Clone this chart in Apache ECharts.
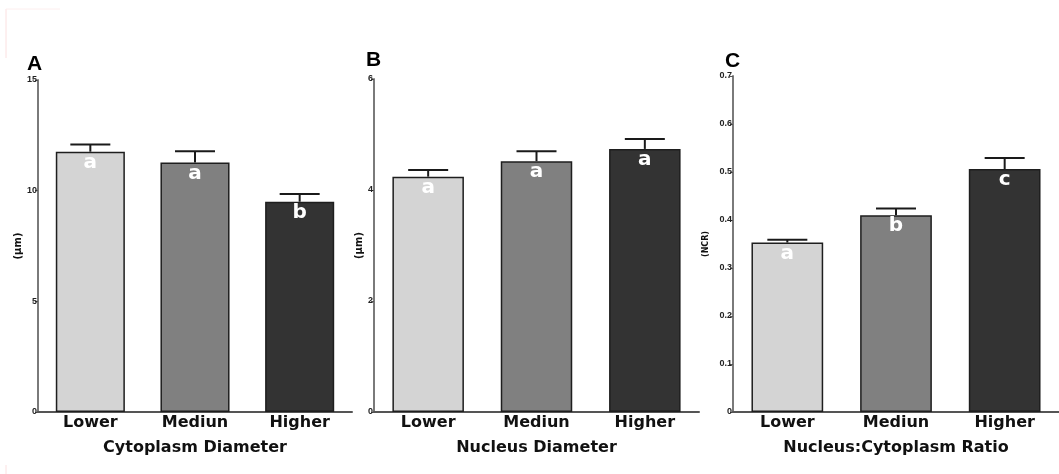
<!DOCTYPE html>
<html>
<head>
<meta charset="utf-8">
<script src="https://cdn.jsdelivr.net/npm/echarts@6/dist/echarts.min.js"></script>
<style>
html,body{margin:0;padding:0;background:#fff;}
#chart{width:1059px;height:474px;}
</style>
</head>
<body>
<div id="chart"></div>
<script>
// ---- data ----
const categories = ['Lower', 'Mediun', 'Higher'];

const cytoMean = [11.76, 11.27, 9.50];
const cytoErr = [0.33, 0.51, 0.35];
const cytoLetters = ['a', 'a', 'b'];

const nucMean = [4.24, 4.52, 4.74];
const nucErr = [0.12, 0.18, 0.18];
const nucLetters = ['a', 'a', 'a'];

const ncrMean = [0.353, 0.410, 0.506];
const ncrErr = [0.006, 0.014, 0.023];
const ncrLetters = ['a', 'b', 'c'];

const panelTitles = ['Cytoplasm Diameter', 'Nucleus Diameter', 'Nucleus:Cytoplasm Ratio'];
const yNames = ['(µm)', '(µm)', '(NCR)'];
const yMaxs = [15, 6, 0.7];
const yIntervals = [5, 2, 0.1];
const panelLetters = ['A', 'B', 'C'];

const barColors = ['#d4d4d4', '#808080', '#333333'];

const panels = [
  {mean: cytoMean, err: cytoErr, letters: cytoLetters},
  {mean: nucMean, err: nucErr, letters: nucLetters},
  {mean: ncrMean, err: ncrErr, letters: ncrLetters}
];

const grids = [
  {left: 38, right: 707, top: 80, bottom: 62},
  {left: 374, right: 360, top: 79, bottom: 62},
  {left: 733, right: 0, top: 76, bottom: 62}
];
const nameGaps = [8, 8, 23];
const yNameSizes = [10, 10, 8];

const chart = echarts.init(document.getElementById('chart'));

const xAxes = [], yAxes = [], series = [];
panels.forEach((p, i) => {
  xAxes.push({
    gridIndex: i,
    type: 'category',
    data: categories,
    axisLine: {lineStyle: {color: '#555', width: 2}},
    axisTick: {show: false},
    axisLabel: {
      margin: 3, color: '#111', fontSize: 16, fontWeight: 'bold',
      fontFamily: 'DejaVu Sans'
    },
    name: panelTitles[i],
    nameLocation: 'middle',
    nameGap: 28,
    nameTextStyle: {color: '#111', fontSize: 16, fontWeight: 'bold', fontFamily: 'DejaVu Sans'}
  });
  yAxes.push({
    gridIndex: i,
    type: 'value',
    min: 0,
    max: yMaxs[i],
    interval: yIntervals[i],
    splitLine: {show: false},
    axisLine: {show: true, lineStyle: {color: '#7a7a7a', width: 2}},
    axisTick: {show: true, length: 3, lineStyle: {color: '#555', width: 1}},
    axisLabel: {
      margin: 1, color: '#222', fontSize: 9, fontWeight: 'bold',
      fontFamily: 'Liberation Sans'
    },
    name: yNames[i],
    nameLocation: 'middle',
    nameRotate: 90,
    nameGap: nameGaps[i],
    nameTextStyle: {color: '#111', fontSize: yNameSizes[i], fontWeight: 'bold', fontFamily: 'DejaVu Sans'}
  });
  series.push({
    type: 'bar',
    xAxisIndex: i,
    yAxisIndex: i,
    barWidth: '66%',
    data: p.mean.map((v, k) => ({
      value: v,
      itemStyle: {color: barColors[k], borderColor: '#1e1e1e', borderWidth: 1.5}
    })),
    label: {
      show: true,
      position: 'insideTop',
      distance: 1,
      formatter: (prm) => p.letters[prm.dataIndex],
      color: '#ffffff',
      fontSize: 20,
      fontWeight: 'bold',
      fontFamily: 'DejaVu Sans'
    },
    z: 2
  });
  series.push({
    type: 'custom',
    xAxisIndex: i,
    yAxisIndex: i,
    data: p.mean.map((v, k) => [k, v, p.err[k]]),
    encode: {x: 0, y: 1},
    renderItem: function (params, api) {
      const x = api.value(0);
      const m = api.value(1);
      const e = api.value(2);
      const p0 = api.coord([x, m]);
      const p1 = api.coord([x, m + e]);
      const hw = 20;
      const st = {stroke: '#1a1a1a', lineWidth: 2};
      return {
        type: 'group',
        children: [
          {type: 'line', shape: {x1: p0[0], y1: p0[1], x2: p1[0], y2: p1[1]}, style: st},
          {type: 'line', shape: {x1: p1[0] - hw, y1: p1[1], x2: p1[0] + hw, y2: p1[1]}, style: st}
        ]
      };
    },
    z: 3
  });
});

const letterPos = [[27, 54], [366, 50], [725, 51]];

chart.setOption({
  animation: false,
  backgroundColor: '#ffffff',
  grid: grids,
  xAxis: xAxes,
  yAxis: yAxes,
  series: series,
  graphic: [
    ...panelLetters.map((t, i) => ({
      type: 'text',
      left: letterPos[i][0],
      top: letterPos[i][1],
      style: {text: t, fill: '#000', font: 'bold 21px "Liberation Sans"'}
    })),
    {type: 'line', shape: {x1: 6, y1: 9, x2: 6, y2: 58}, style: {stroke: '#fbe0e0', lineWidth: 1}},
    {type: 'line', shape: {x1: 6, y1: 9, x2: 60, y2: 9}, style: {stroke: '#fdeeee', lineWidth: 1}},
    {type: 'line', shape: {x1: 6, y1: 465, x2: 6, y2: 474}, style: {stroke: '#fbe0e0', lineWidth: 1}}
  ]
});
</script>
</body>
</html>
